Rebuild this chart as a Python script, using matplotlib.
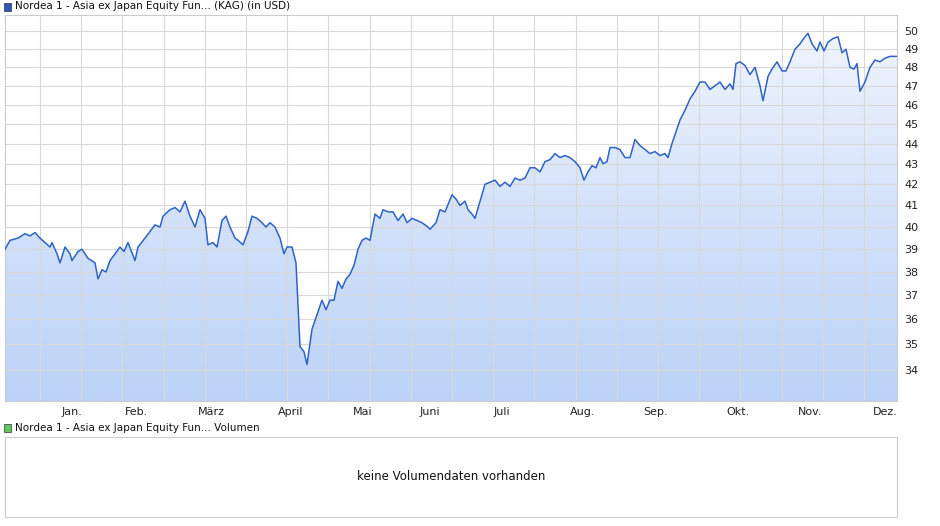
import numpy as np
import matplotlib
matplotlib.use("Agg")
import matplotlib.pyplot as plt
from matplotlib.patches import Polygon, Rectangle

# pixel-read positions (converted to day offsets from Jan 1) and prices
px = [5,10,18,25,30,35,40,45,50,52,57,60,65,70,72,78,82,88,95,98,102,106,110,115,120,124,128,135,138,145,150,155,160,163,170,175,180,185,190,195,200,205,208,213,217,222,226,230,235,238,243,248,252,257,262,266,270,275,280,284,287,292,296,300,304,307,312,317,322,326,330,334,338,342,346,350,354,358,362,366,370,375,380,383,388,393,398,403,407,412,417,422,428,430,436,440,445,452,456,460,465,468,472,475,480,485,490,495,500,505,510,515,520,525,530,535,540,545,550,555,560,565,570,575,580,584,588,592,596,600,603,607,610,615,620,625,630,635,640,645,650,655,660,665,668,672,676,680,685,690,695,700,705,710,715,720,725,730,733,736,740,745,750,755,760,763,768,772,777,782,786,790,795,800,805,808,812,817,820,824,828,833,838,842,846,850,854,857,860,865,870,875,880,885,890,897]
price = [39.0,39.4,39.5,39.7,39.6,39.75,39.5,39.3,39.1,39.3,38.8,38.4,39.1,38.8,38.5,38.9,39.0,38.6,38.4,37.7,38.1,38.0,38.5,38.8,39.1,38.9,39.3,38.5,39.1,39.5,39.8,40.1,40.0,40.5,40.8,40.9,40.7,41.2,40.5,40.0,40.8,40.4,39.2,39.3,39.1,40.3,40.5,40.0,39.5,39.4,39.2,39.8,40.5,40.4,40.2,40.0,40.2,40.0,39.5,38.8,39.1,39.1,38.4,34.9,34.7,34.2,35.6,36.2,36.8,36.4,36.8,36.8,37.6,37.3,37.7,37.9,38.3,39.0,39.4,39.5,39.4,40.6,40.4,40.8,40.7,40.7,40.3,40.6,40.2,40.4,40.3,40.2,40.0,39.9,40.2,40.8,40.7,41.5,41.3,41.0,41.2,40.8,40.6,40.4,41.2,42.0,42.1,42.2,41.9,42.1,41.9,42.3,42.2,42.3,42.8,42.8,42.6,43.1,43.2,43.5,43.3,43.4,43.3,43.1,42.8,42.2,42.6,42.9,42.8,43.3,43.0,43.1,43.8,43.8,43.7,43.3,43.3,44.2,43.9,43.7,43.5,43.6,43.4,43.5,43.3,44.0,44.6,45.2,45.7,46.3,46.7,47.2,47.2,46.8,47.0,47.2,46.8,47.1,46.8,48.2,48.3,48.1,47.6,48.0,47.0,46.2,47.5,47.9,48.3,47.8,47.8,48.3,49.0,49.3,49.7,49.9,49.3,48.9,49.4,48.9,49.4,49.6,49.7,48.8,49.0,48.0,47.9,48.2,46.7,47.2,48.0,48.4,48.3,48.5,48.6,48.6]
month_labels = ["Jan.","Feb.","März","April","Mai","Juni","Juli","Aug.","Sep.","Okt.","Nov.","Dez."]
month_px = [72,136,211,291,363,430,502,583,656,738,810,885]
yticks = [34,35,36,37,38,39,40,41,42,43,44,45,46,47,48,49,50]

day = (np.array(px) - 72) / 2.43
mday = (np.array(month_px) - 72) / 2.43
x0, x1 = (5-72)/2.43, (897-72)/2.43
y0, y1 = 32.8, 50.95

fig = plt.figure(figsize=(9.4, 5.26), dpi=100)
ax = fig.add_axes([5/940, 1-401/526, 892/940, 386/526])
ax.set_yscale('log')
ax.set_xlim(x0, x1); ax.set_ylim(y0, y1)

# gradient fill
grad = np.linspace(0, 1, 256).reshape(-1, 1)
from matplotlib.colors import LinearSegmentedColormap
cmap = LinearSegmentedColormap.from_list('g', ['#bcd3f7', '#f3f7fe'])
im = ax.imshow(grad, cmap=cmap, aspect='auto', extent=[x0, x1, y0, y1], origin='lower', zorder=1)
verts = list(zip(day, price)) + [(day[-1], y0), (day[0], y0)]
poly = Polygon(verts, closed=True, facecolor='none', edgecolor='none', transform=ax.transData)
ax.add_patch(poly)
im.set_clip_path(poly)
ax.plot(day, price, color='#2f63c4', lw=1.1, zorder=3)

ax.set_yticks(yticks)
ax.set_yticklabels([str(t) for t in yticks])
ax.yaxis.set_minor_locator(matplotlib.ticker.NullLocator())
ax.yaxis.tick_right()
ax.tick_params(axis='y', length=0, labelsize=8, pad=5, colors='#222222')
ax.set_xticks(mday)
ax.set_xticklabels(month_labels)
ax.tick_params(axis='x', length=0, labelsize=8, pad=4, colors='#222222')
ax.grid(axis='y', color='#d8d8d8', lw=0.8, zorder=2)
for gx in np.arange(40, 897, 41.2):
    ax.axvline((gx-72)/2.43, color='#d8d8d8', lw=0.8, zorder=2)
for s in ax.spines.values():
    s.set_color('#cccccc'); s.set_linewidth(0.8)

# legends
fig.patches.append(Rectangle((4/940, 1-11/526), 7/940, 8/526, transform=fig.transFigure, facecolor='#2a57b8', edgecolor='#333', lw=0.5))
fig.text(15/940, 1-6/526, "Nordea 1 - Asia ex Japan Equity Fun... (KAG) (in USD)", fontsize=7.5, va='center', color='#111')
fig.patches.append(Rectangle((4/940, 1-432/526), 7/940, 8/526, transform=fig.transFigure, facecolor='#5cc85c', edgecolor='#333', lw=0.5))
fig.text(15/940, 1-428/526, "Nordea 1 - Asia ex Japan Equity Fun... Volumen", fontsize=7.5, va='center', color='#111')

ax2 = fig.add_axes([5/940, 1-517/526, 892/940, 80/526])
ax2.set_xticks([]); ax2.set_yticks([])
for s in ax2.spines.values():
    s.set_color('#cccccc'); s.set_linewidth(0.8)
ax2.text(0.5, 0.5, "keine Volumendaten vorhanden", transform=ax2.transAxes, ha='center', va='center', fontsize=8.5, color='#111')

fig.savefig('out.png', dpi=100)
